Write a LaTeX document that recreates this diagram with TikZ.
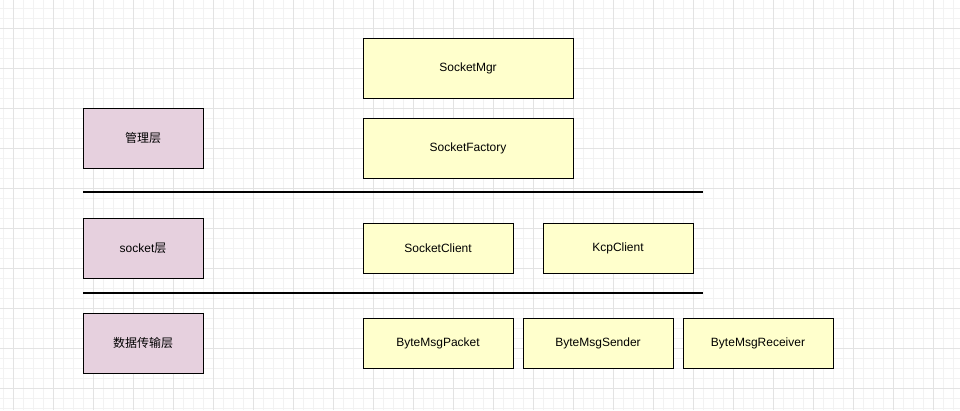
\documentclass[tikz,border=0pt]{standalone}
\usepackage{fontspec}
\setmainfont{Liberation Sans}
\newfontfamily\cjk{Noto Sans CJK SC}
\definecolor{classfill}{HTML}{FFFFCC}
\definecolor{layerfill}{HTML}{E6D0DE}
\definecolor{gridminor}{HTML}{F2F2F2}
\definecolor{gridmajor}{HTML}{E3E3E3}
\tikzset{
  classbox/.style={draw=black, fill=classfill, line width=1pt, minimum width=150pt, minimum height=50pt, inner sep=0pt, font=\fontsize{12}{14}\selectfont},
  layerbox/.style={draw=black, fill=layerfill, line width=1pt, minimum width=120pt, minimum height=60pt, inner sep=0pt, font=\fontsize{12}{14}\selectfont},
  divider/.style={line width=2pt}
}
\begin{document}
\begin{tikzpicture}[x=1pt,y=-1pt]
    \useasboundingbox (0,0) rectangle (960,410);
    \fill[white] (0,0) rectangle (960,410);
    % grid
    \foreach \x in {3,13,...,953} \draw[gridminor, line width=0.8pt] (\x,0)--(\x,410);
    \foreach \y in {8,18,...,408} \draw[gridminor, line width=0.8pt] (0,\y)--(960,\y);
    \foreach \x in {13,53,...,953} \draw[gridmajor, line width=0.8pt] (\x,0)--(\x,410);
    \foreach \y in {28,68,...,408} \draw[gridmajor, line width=0.8pt] (0,\y)--(960,\y);
    % layers
    \node[layerbox] (mgrlayer) at (143,138) {\cjk 管理层};
    \node[layerbox] (socketlayer) at (143,248) {socket\cjk 层};
    \node[layerbox] (datalayer) at (143,343) {\cjk 数据传输层};
    % classes
    \node[classbox, minimum width=210pt, minimum height=60pt] (socketmgr) at (468,68) {SocketMgr};
    \node[classbox, minimum width=210pt, minimum height=60pt] (socketfactory) at (468,148) {SocketFactory};
    \node[classbox] (socketclient) at (438,248) {SocketClient};
    \node[classbox] (kcpclient) at (618,248) {KcpClient};
    \node[classbox] (packet) at (438,343) {ByteMsgPacket};
    \node[classbox] (sender) at (598,343) {ByteMsgSender};
    \node[classbox] (receiver) at (758,343) {ByteMsgReceiver};
    % dividers
    \coordinate (div1l) at (83,192);
    \coordinate (div1r) at (703,192);
    \coordinate (div2l) at (83,293);
    \coordinate (div2r) at (703,293);
    \draw[divider] (div1l)--(div1r);
    \draw[divider] (div2l)--(div2r);
\end{tikzpicture}
\end{document}
